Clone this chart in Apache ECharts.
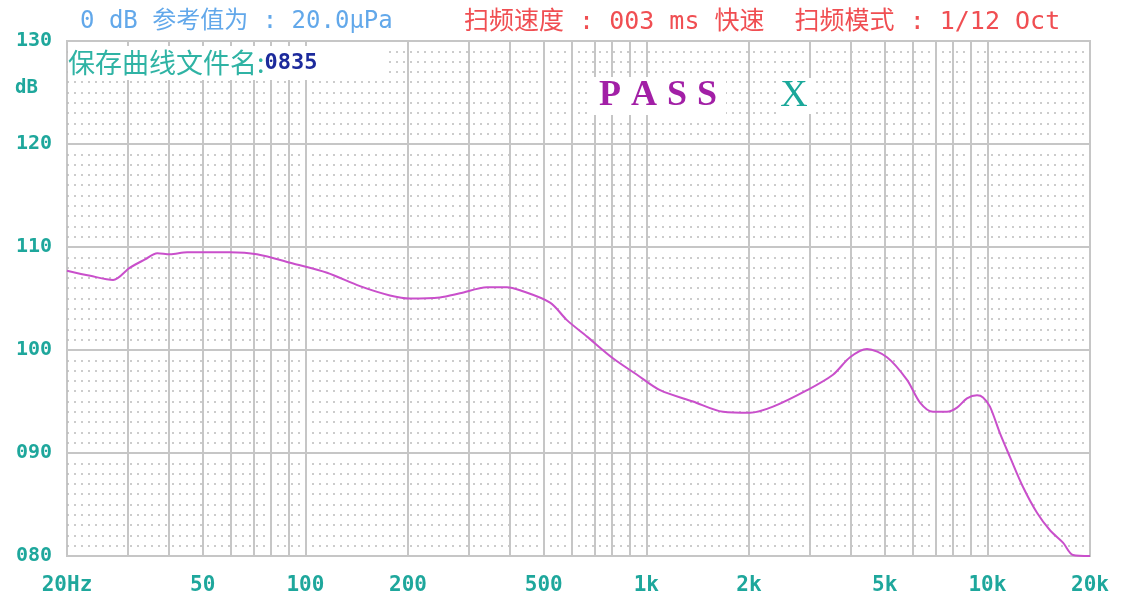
<!DOCTYPE html>
<html>
<head>
<meta charset="utf-8">
<script src="https://cdn.jsdelivr.net/npm/echarts@6/dist/echarts.min.js"></script>
<style>html,body{margin:0;padding:0;background:#fff;}#c{width:1123px;height:596px;}</style>
</head>
<body>
<div id="c"></div>
<script>
// ---- data ----
const freqHz = [20, 23.4, 27.3, 30.6, 33.9, 36.8, 40.1, 45, 60.1, 72.1, 92, 115.8, 144.6, 177, 203, 248, 284, 341, 390, 426, 522, 585, 670, 798, 939, 1097, 1370, 1678, 2013, 2352, 2960, 3526, 3957, 4437, 5078, 5813, 6346, 6928, 7614, 8148, 8714, 9326, 9712, 10178, 10892, 11656, 12724, 13984, 15266, 16666, 17832, 20000];
const splDb = [107.7, 107.2, 106.8, 108.0, 108.8, 109.4, 109.3, 109.5, 109.5, 109.3, 108.4, 107.5, 106.2, 105.3, 105.0, 105.1, 105.5, 106.1, 106.1, 105.8, 104.6, 102.9, 101.3, 99.2, 97.6, 96.1, 95.0, 94.0, 93.9, 94.5, 96.1, 97.6, 99.3, 100.1, 99.3, 97.1, 94.9, 94.0, 94.0, 94.4, 95.3, 95.6, 95.4, 94.5, 91.9, 89.6, 86.7, 84.2, 82.5, 81.3, 80.1, 80.0];
const xTickHz = [20, 50, 100, 200, 500, 1000, 2000, 5000, 10000, 20000];
const xTickLabels = ['20Hz', '50', '100', '200', '500', '1k', '2k', '5k', '10k', '20k'];
const gridHz = [20,30,40,50,60,70,80,90,100,200,300,400,500,600,700,800,900,1000,2000,3000,4000,5000,6000,7000,8000,9000,10000,20000];
const yMin = 80, yMax = 130, yStep = 10;
const headerLeft = '0 dB 参考值为 : 20.0μPa';
const headerRight = '扫频速度 : 003 ms 快速  扫频模式 : 1/12 Oct';
const fileLabel = '保存曲线文件名:';
const fileName = '0835';
const passText = 'PASS';
const markText = 'X';

// ---- chart ----
const LMIN = Math.log10(xTickHz[0]);
const LMAX = Math.log10(xTickHz[xTickHz.length - 1]);
const teal = '#1ea79c';
const gridCol = '#c6c6c6';
const mono = '"DejaVu Sans Mono", "Noto Sans CJK SC", monospace';

function labelFor(v) {
  let best = 0, bd = 1e9;
  xTickHz.forEach((f, i) => { const d = Math.abs(Math.log10(f) - v); if (d < bd) { bd = d; best = i; } });
  return xTickLabels[best];
}

const chart = echarts.init(document.getElementById('c'), null, {renderer: 'canvas'});
const option = {
  backgroundColor: '#ffffff',
  animation: false,
  grid: {left: 67, top: 41, width: 1023, height: 515, show: true, borderColor: gridCol, borderWidth: 2, backgroundColor: 'transparent'},
  xAxis: {
    type: 'value', min: LMIN, max: LMAX,
    axisLine: {show: false}, axisTick: {show: false}, splitLine: {show: false},
    axisLabel: {
      customValues: xTickHz.map(f => Math.log10(f)),
      formatter: v => labelFor(v),
      color: teal, fontFamily: mono, fontWeight: 'bold', fontSize: 21, margin: 19,
      showMinLabel: true, showMaxLabel: true, hideOverlap: false
    }
  },
  yAxis: {
    type: 'value', min: yMin, max: yMax, interval: yStep,
    axisLine: {show: false}, axisTick: {show: false},
    axisLabel: {formatter: v => String(v).padStart(3, '0'), color: teal, fontFamily: mono, fontWeight: 'bold', fontSize: 20, margin: 15},
    splitLine: {show: true, lineStyle: {color: gridCol, width: 2}},
    minorTick: {show: false, splitNumber: 10},
    minorSplitLine: {show: true, lineStyle: {color: '#bcbcbc', width: 1.5, type: [2, 5]}}
  },
  series: [
    {
      type: 'line', data: [], z: 1, silent: true,
      markLine: {
        silent: true, symbol: 'none', animation: false,
        label: {show: false},
        lineStyle: {color: gridCol, type: 'solid', width: 2},
        data: gridHz.map(f => ({xAxis: Math.log10(f)}))
      }
    },
    {
      type: 'line', z: 5,
      data: freqHz.map((f, i) => [Math.log10(f), splDb[i]]),
      showSymbol: false, smooth: 0.3,
      lineStyle: {color: '#c94fcb', width: 2}
    }
  ],
  graphic: [
    {type: 'text', x: 80, y: 22, z: 20, style: {text: headerLeft, font: '24px ' + mono, fill: '#62a8ea', verticalAlign: 'middle', align: 'left'}},
    {type: 'text', x: 464, y: 22, z: 20, style: {text: headerRight, font: '25px ' + mono, fill: '#f04e52', verticalAlign: 'middle', align: 'left'}},
    {type: 'text', x: 15, y: 88, z: 20, style: {text: 'dB', font: 'bold 19px ' + mono, fill: teal, verticalAlign: 'middle', align: 'left'}},
    {type: 'rect', z: 15, shape: {x: 68, y: 46, width: 317, height: 34}, style: {fill: '#ffffff'}},
    {type: 'text', x: 68, y: 63, z: 20, style: {
      text: '{a|' + fileLabel + '}{b|' + fileName + '}', verticalAlign: 'middle', align: 'left',
      rich: {
        a: {font: '27px "Noto Sans CJK SC", sans-serif', fill: '#2fb3a4'},
        b: {font: 'bold 22px ' + mono, fill: '#1c2a9c'}
      }
    }},
    {type: 'rect', z: 15, shape: {x: 590, y: 77, width: 136, height: 38}, style: {fill: '#ffffff'}},
    {type: 'text', x: 658, y: 96, z: 20, style: {
      text: passText.split('').map(c => '{p|' + c + '}').join(''), align: 'center', verticalAlign: 'middle',
      rich: {p: {font: 'bold 36px "Liberation Serif", "DejaVu Serif", serif', fill: '#a21fa6', padding: [0, 5]}}
    }},
    {type: 'rect', z: 15, shape: {x: 776, y: 78, width: 36, height: 36}, style: {fill: '#ffffff'}},
    {type: 'text', x: 794, y: 96, z: 20, style: {text: markText, font: '38px "Liberation Serif", "DejaVu Serif", serif', fill: '#1aa89a', align: 'center', verticalAlign: 'middle'}}
  ]
};
chart.setOption(option);
</script>
</body>
</html>
